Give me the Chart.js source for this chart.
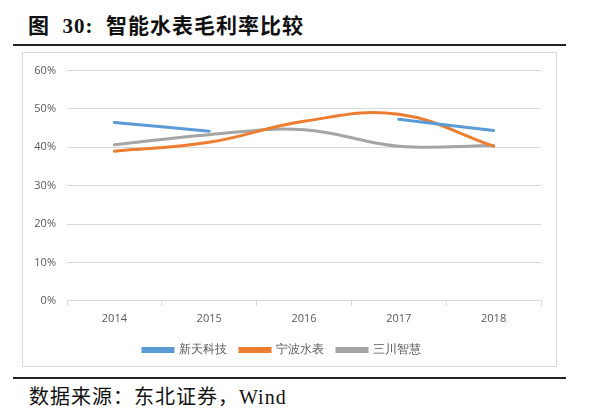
<!DOCTYPE html>
<html>
<head>
<meta charset="utf-8">
<script src="https://cdn.jsdelivr.net/npm/chart.js@4"></script>
<style>
  body { margin: 0; width: 600px; height: 412px; background: #fff; position: relative; overflow: hidden; }
  #title { position: absolute; left: 28px; top: 9px; font-family: "Liberation Serif", "Noto Sans CJK SC"; font-weight: bold; font-size: 21px; letter-spacing: 1px; color: #111; white-space: pre; }
  #topline { position: absolute; left: 13px; top: 44px; width: 553px; height: 2px; background: #222; }
  #box { position: absolute; left: 22px; top: 52px; width: 533px; height: 313px; border: 1px solid #d9d9d9; }
  #bottomline { position: absolute; left: 13px; top: 377px; width: 553px; height: 2px; background: #222; }
  #source { position: absolute; left: 29px; top: 381px; font-family: "Liberation Serif", "Noto Sans CJK SC"; font-size: 20px; letter-spacing: 1px; color: #111; white-space: pre; }
</style>
</head>
<body>
<div id="title">图  30:  智能水表毛利率比较</div>
<div id="topline"></div>
<div id="box"><canvas id="myChart" width="533" height="313"></canvas></div>
<div id="bottomline"></div>
<div id="source">数据来源：东北证券，Wind</div>
<script>
const years = ['2014', '2015', '2016', '2017', '2018'];
const xintian = [46.5, 44.2, null, 47.3, 44.4];
const ningbo = [39.0, 41.3, 46.8, 48.6, 40.3];
const sanchuan = [40.7, 43.3, 44.6, 40.3, 40.5];

const ctx = document.getElementById('myChart').getContext('2d');

const data = {
  labels: years,
  datasets: [{
    label: '新天科技',
    data: xintian,
    borderColor: '#5B9BD5',
    backgroundColor: '#5B9BD5',
    spanGaps: false
  }, {
    label: '宁波水表',
    data: ningbo,
    borderColor: '#ED7D31',
    backgroundColor: '#ED7D31'
  }, {
    label: '三川智慧',
    data: sanchuan,
    borderColor: '#A5A5A5',
    backgroundColor: '#A5A5A5'
  }]
};

const config = {
  type: 'line',
  data: data,
  options: {
    responsive: false,
    animation: false,
    layout: { padding: { top: 10, right: 15, left: 0, bottom: 0 } },
    elements: {
      line: { borderWidth: 3, tension: 0.4, borderCapStyle: 'round' },
      point: { radius: 0, hoverRadius: 0 }
    },
    scales: {
      x: {
        offset: true,
        grid: {
          offset: true,
          drawOnChartArea: false,
          drawTicks: true,
          tickLength: 5,
          color: '#d9d9d9'
        },
        border: { color: '#d9d9d9' },
        ticks: {
          color: '#595959',
          padding: 6,
          font: { family: 'Open Sans', size: 11 }
        }
      },
      y: {
        min: 0,
        max: 60,
        afterFit: function(scale) { scale.width = 44; },
        grid: {
          color: '#d9d9d9',
          drawTicks: false
        },
        border: { display: false },
        ticks: {
          stepSize: 10,
          padding: 11,
          color: '#595959',
          font: { family: 'Open Sans', size: 11 },
          callback: function(value) {
            return value + '%';
          }
        }
      }
    },
    plugins: {
      legend: {
        position: 'bottom',
        labels: {
          boxWidth: 30,
          boxHeight: 3,
          padding: 13,
          color: '#595959',
          font: { family: 'Open Sans', size: 12 }
        }
      },
      tooltip: { enabled: false }
    }
  }
};

const myChart = new Chart(ctx, config);
</script>
</body>
</html>
